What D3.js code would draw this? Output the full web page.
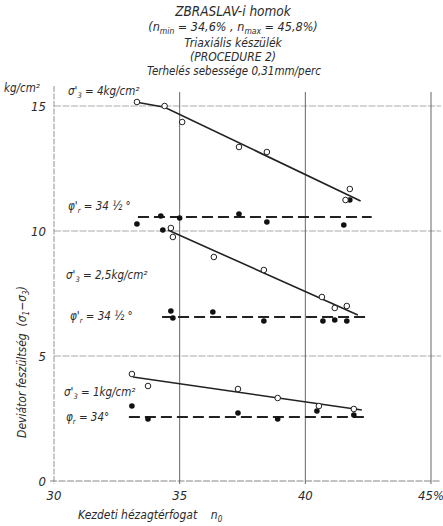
<!DOCTYPE html>
<html>
<head>
<meta charset="utf-8">
<script src="https://d3js.org/d3.v7.min.js"></script>
<style>
  body { margin: 0; background: #fff; }
  text { font-family: "DejaVu Sans Condensed", "DejaVu Sans", sans-serif; font-style: italic; fill: #2a2a2a; }
</style>
</head>
<body>
<script>
// x tick values (initial porosity %) and y ticks (kg/cm2)
var xTicks = [30, 35, 40, 45];
var yTicks = [0, 5, 10, 15];

// sigma3' = 4 kg/cm2
var open4 = [[33.3, 15.16], [34.4, 15.0], [35.1, 14.36], [37.36, 13.36], [38.47, 13.16], [41.77, 11.68], [41.6, 11.24]];
var filled4 = [[33.3, 10.28], [34.25, 10.6], [35.0, 10.52], [37.36, 10.68], [38.47, 10.36], [41.53, 10.24], [41.77, 11.24]];
var fit4 = [[33.3, 15.15], [34.4, 14.95], [42.2, 11.2]];
var dash4 = [[33.34, 10.56], [42.64, 10.56]];

// sigma3' = 2.5 kg/cm2
var open25 = [[34.65, 10.12], [34.73, 9.76], [36.36, 8.96], [38.35, 8.44], [40.66, 7.36], [41.17, 6.92], [41.65, 7.0]];
var filled25 = [[34.33, 10.04], [34.65, 6.8], [34.73, 6.52], [36.32, 6.76], [38.35, 6.4], [40.7, 6.4], [41.17, 6.44], [41.65, 6.4]];
var fit25 = [[34.53, 10.04], [42.09, 6.64]];
var dash25 = [[34.3, 6.56], [42.45, 6.56]];

// sigma3' = 1 kg/cm2
var open1 = [[33.1, 4.28], [33.74, 3.8], [37.32, 3.68], [38.9, 3.32], [40.54, 3.0], [41.93, 2.88]];
var filled1 = [[33.1, 3.0], [33.74, 2.48], [37.32, 2.72], [38.9, 2.48], [40.46, 2.8], [41.93, 2.64]];
var fit1 = [[33.14, 4.16], [42.25, 2.84]];
var dash1 = [[32.98, 2.56], [42.4, 2.56]];

var svg = d3.select("body").append("svg")
  .attr("width", 443).attr("height", 526);

var x = d3.scaleLinear().domain([30, 45]).range([54, 431]);
var y = d3.scaleLinear().domain([0, 15]).range([481, 106]);

// grid
svg.selectAll(".hgrid").data(yTicks.slice(1)).enter().append("line")
  .attr("x1", x(30)).attr("x2", 441)
  .attr("y1", function(d) { return y(d); }).attr("y2", function(d) { return y(d); })
  .attr("stroke", "#888").attr("stroke-width", 0.7).attr("stroke-dasharray", "7,1.5");
svg.selectAll(".vgrid").data(xTicks.slice(1)).enter().append("line")
  .attr("x1", function(d) { return x(d); }).attr("x2", function(d) { return x(d); })
  .attr("y1", 92).attr("y2", y(0) + 3)
  .attr("stroke", "#555").attr("stroke-width", 0.9);

// axes lines
svg.append("line").attr("x1", x(30)).attr("x2", x(30)).attr("y1", 86).attr("y2", y(0) + 3)
  .attr("stroke", "#777").attr("stroke-width", 0.8).attr("stroke-dasharray", "6,1.5");
svg.append("line").attr("x1", x(30) - 4).attr("x2", 440).attr("y1", y(0)).attr("y2", y(0))
  .attr("stroke", "#666").attr("stroke-width", 0.8).attr("stroke-dasharray", "7,1.5");

// tick labels
svg.selectAll(".ytl").data(yTicks).enter().append("text")
  .attr("x", x(30) - 8).attr("y", function(d) { return y(d) + 5; })
  .attr("text-anchor", "end").style("font-size", "13px")
  .text(function(d) { return d; });
svg.selectAll(".xtl").data(xTicks).enter().append("text")
  .attr("x", function(d) { return x(d); }).attr("y", 500)
  .attr("text-anchor", "middle")
  .style("font-size", "13px")
  .text(function(d) { return d === 45 ? "45%" : d; });

svg.append("text").attr("x", 4).attr("y", 92).style("font-size", "11.5px").text("kg/cm²");

// axis titles
svg.append("text").attr("x", 78).attr("y", 519).style("font-size", "12px")
  .html("Kezdeti hézagtérfogat&#160;&#160;&#160;&#160;n<tspan font-size='8px' dy='3'>0</tspan>");
svg.append("text").attr("transform", "translate(26,362) rotate(-90)")
  .attr("text-anchor", "middle").style("font-size", "12px")
  .html("Deviátor feszültség&#160;&#160;(σ<tspan font-size='8px' dy='3'>1</tspan><tspan dy='-3'>−σ</tspan><tspan font-size='8px' dy='3'>3</tspan><tspan dy='-3'>)</tspan>");

// title block
var titles = [
  [233, 16, "ZBRASLAV-i homok", 13.5],
  [233, 31, "(n<tspan font-size='8.5px' dy='3'>min</tspan><tspan dy='-3'> = 34,6% ,  n</tspan><tspan font-size='8.5px' dy='3'>max</tspan><tspan dy='-3'> = 45,8%)</tspan>", 12.5],
  [233, 47, "Triaxiális készülék", 12],
  [233, 61, "(PROCEDURE 2)", 12],
  [234, 75, "Terhelés sebessége 0,31mm/perc", 11.5]
];
svg.selectAll(".title").data(titles).enter().append("text")
  .attr("x", function(d) { return d[0]; }).attr("y", function(d) { return d[1]; })
  .attr("text-anchor", "middle").style("font-size", function(d) { return d[3] + "px"; })
  .html(function(d) { return d[2]; });

// annotations
var notes = [
  [68, 95, "σ'<tspan font-size='7.5px' dy='3'>3</tspan><tspan dy='-3'> = 4kg/cm²</tspan>"],
  [68, 210, "φ'<tspan font-size='7.5px' dy='3'>r</tspan><tspan dy='-3'>  = 34 ½ °</tspan>"],
  [66, 279, "σ'<tspan font-size='7.5px' dy='3'>3</tspan><tspan dy='-3'> = 2,5kg/cm²</tspan>"],
  [70, 320, "φ'<tspan font-size='7.5px' dy='3'>r</tspan><tspan dy='-3'>  = 34 ½ °</tspan>"],
  [64, 396, "σ'<tspan font-size='7.5px' dy='3'>3</tspan><tspan dy='-3'> = 1kg/cm²</tspan>"],
  [66, 421, "φ<tspan font-size='7.5px' dy='3'>r</tspan><tspan dy='-3'>  = 34°</tspan>"]
];
svg.selectAll(".note").data(notes).enter().append("text")
  .attr("x", function(d) { return d[0]; }).attr("y", function(d) { return d[1]; })
  .style("font-size", "11.5px")
  .html(function(d) { return d[2]; });

var line = d3.line().x(function(d) { return x(d[0]); }).y(function(d) { return y(d[1]); });

[fit4, fit25, fit1].forEach(function(f) {
  svg.append("path").attr("d", line(f)).attr("fill", "none")
    .attr("stroke", "#222").attr("stroke-width", 1.6);
});
[dash4, dash25, dash1].forEach(function(f) {
  svg.append("path").attr("d", line(f)).attr("fill", "none")
    .attr("stroke", "#222").attr("stroke-width", 1.8).attr("stroke-dasharray", "11,5");
});

[filled4, filled25, filled1].forEach(function(pts) {
  svg.selectAll(null).data(pts).enter().append("circle")
    .attr("cx", function(d) { return x(d[0]); }).attr("cy", function(d) { return y(d[1]); })
    .attr("r", 2.8).attr("fill", "#111");
});
[open4, open25, open1].forEach(function(pts) {
  svg.selectAll(null).data(pts).enter().append("circle")
    .attr("cx", function(d) { return x(d[0]); }).attr("cy", function(d) { return y(d[1]); })
    .attr("r", 2.8).attr("fill", "#fff").attr("stroke", "#222").attr("stroke-width", 1);
});
</script>
</body>
</html>
